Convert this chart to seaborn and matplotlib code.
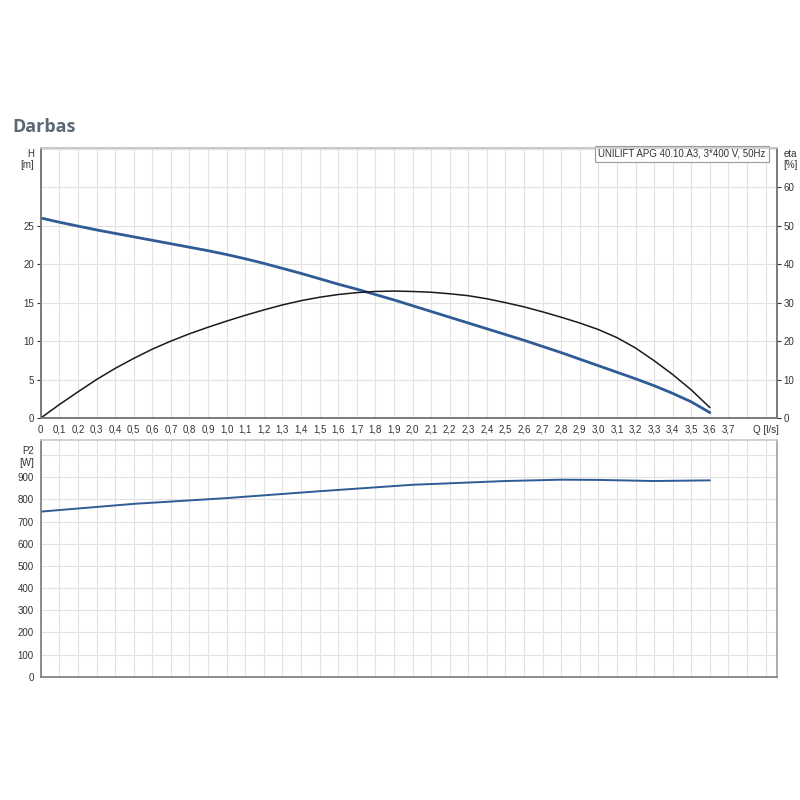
import numpy as np
import pandas as pd
import matplotlib
matplotlib.use("Agg")
import matplotlib.pyplot as plt
import seaborn as sns

# pump curve data
q_h = [0, 0.1, 0.2, 0.3, 0.4, 0.5, 0.6, 0.7, 0.8, 0.9, 1.0, 1.1, 1.2, 1.3, 1.4, 1.5,
       1.6, 1.7, 1.8, 1.9, 2.0, 2.1, 2.2, 2.3, 2.4, 2.5, 2.6, 2.7, 2.8, 2.9, 3.0,
       3.1, 3.2, 3.3, 3.4, 3.5, 3.6]
head = [26.0, 25.45, 24.95, 24.45, 24.0, 23.55, 23.1, 22.65, 22.2, 21.75, 21.25, 20.7,
        20.1, 19.45, 18.8, 18.1, 17.4, 16.75, 16.05, 15.35, 14.6, 13.85, 13.1, 12.35,
        11.6, 10.85, 10.1, 9.3, 8.5, 7.65, 6.8, 5.95, 5.1, 4.2, 3.2, 2.1, 0.7]

q_eta = [0, 0.1, 0.2, 0.3, 0.4, 0.5, 0.6, 0.7, 0.8, 0.9, 1.0, 1.1, 1.2, 1.3, 1.4,
         1.5, 1.6, 1.7, 1.8, 1.9, 2.0, 2.1, 2.2, 2.3, 2.4, 2.5, 2.6, 2.7, 2.8, 2.9,
         3.0, 3.1, 3.2, 3.3, 3.4, 3.5, 3.6]
eta = [0, 3.5, 6.8, 10.0, 12.9, 15.5, 17.9, 20.0, 21.9, 23.6, 25.2, 26.7, 28.1,
       29.4, 30.5, 31.4, 32.1, 32.6, 32.9, 33.0, 32.9, 32.7, 32.3, 31.8, 31.0, 30.0,
       28.9, 27.6, 26.2, 24.7, 23.0, 20.9, 18.2, 14.9, 11.3, 7.3, 2.7]

q_p2 = [0, 0.5, 1.0, 1.5, 2.0, 2.5, 2.8, 3.0, 3.3, 3.6]
p2 = [745, 780, 806, 837, 866, 883, 889, 888, 883, 886]

x_ticks = [round(0.1 * i, 1) for i in range(40)]
x_labels = [("0" if v == 0 else f"{v:.1f}".replace(".", ",")) for v in x_ticks]
x_labels[38] = ""
x_labels[39] = "Q [l/s]"

sns.set_style("white")
plt.rcParams['font.family'] = ['Liberation Sans', 'DejaVu Sans']

blue = "#2f5b96"
grid_c = "#e2e2e2"
spine_dark = "#7a7a7a"
spine_light = "#c8c8c8"
txt = "#333333"

fig = plt.figure(figsize=(8, 8), dpi=100)
fig.text(0.015, 0.835, "Darbas", fontsize=13, fontweight="bold", color="#5b6875",
         family=["Open Sans", "DejaVu Sans"])

# ---- upper chart: H and eta ----
ax = fig.add_axes([0.051, 0.4775, 0.92, 0.3375])
ax2 = ax.twinx()
sns.lineplot(x=q_h, y=head, ax=ax, color=blue, lw=2.0)
sns.lineplot(x=q_eta, y=eta, ax=ax2, color="#1a1a1a", lw=1.1)

ax.set_xlim(0, 3.96)
ax.set_ylim(0, 35.1)
ax2.set_ylim(0, 70.2)
ax.set_xticks(x_ticks)
ax.set_xticklabels(x_labels)
ax.set_yticks([0, 5, 10, 15, 20, 25, 30, 35])
ax.set_yticklabels(["0", "5", "10", "15", "20", "25", "", "H\n[m]"])
ax2.set_yticks([0, 10, 20, 30, 40, 50, 60, 70])
ax2.set_yticklabels(["0", "10", "20", "30", "40", "50", "60", "eta\n[%]"])
ax.grid(True, color=grid_c, lw=0.8)
ax.set_axisbelow(True)
ax.tick_params(axis="both", labelsize=7, colors=txt, length=3, width=0.8, pad=2)
ax2.tick_params(axis="y", labelsize=7, colors=txt, length=3, width=0.8, pad=2)
for t in ax.get_yticklabels()[-1:] + ax2.get_yticklabels()[-1:]:
    t.set_verticalalignment("top")
# no tick marks at 30 m and at the unit labels
for i in (6, 7):
    ax.yaxis.get_major_ticks()[i].tick1line.set_visible(False)
ax2.yaxis.get_major_ticks()[7].tick2line.set_visible(False)
for a in (ax, ax2):
    a.spines["top"].set_color(spine_light)
    a.spines["left"].set_color(spine_dark)
    a.spines["bottom"].set_color(spine_dark)
    a.spines["right"].set_color(spine_dark)
    for s in a.spines.values():
        s.set_linewidth(1.2)
ax.text(0.985, 0.997, "UNILIFT APG 40.10.A3, 3*400 V, 50Hz", transform=ax.transAxes,
        ha="right", va="top", fontsize=7, color=txt,
        bbox=dict(boxstyle="square,pad=0.3", fc="white", ec="#9a9a9a", lw=0.8))

# ---- lower chart: P2 ----
bx = fig.add_axes([0.051, 0.154, 0.92, 0.296])
sns.lineplot(x=q_p2, y=p2, ax=bx, color=blue, lw=1.4)
bx.set_xlim(0, 3.96)
bx.set_ylim(0, 1068)
bx.set_xticks(x_ticks)
bx.set_xticklabels([])
bx.tick_params(axis="x", length=0)
bx.set_yticks(list(range(0, 1001, 100)))
bx.set_yticklabels([str(v) for v in range(0, 901, 100)] + ["P2\n[W]"])
bx.tick_params(axis="y", labelsize=7, colors=txt, length=3, width=0.8, pad=2)
bx.grid(True, color=grid_c, lw=0.8)
bx.set_axisbelow(True)
bx.spines["top"].set_color(spine_light)
bx.spines["right"].set_color("#a0a0a0")
bx.spines["left"].set_color(spine_dark)
bx.spines["bottom"].set_color(spine_dark)
for s in bx.spines.values():
    s.set_linewidth(1.2)

fig.savefig("out.png", dpi=100, facecolor="white")
